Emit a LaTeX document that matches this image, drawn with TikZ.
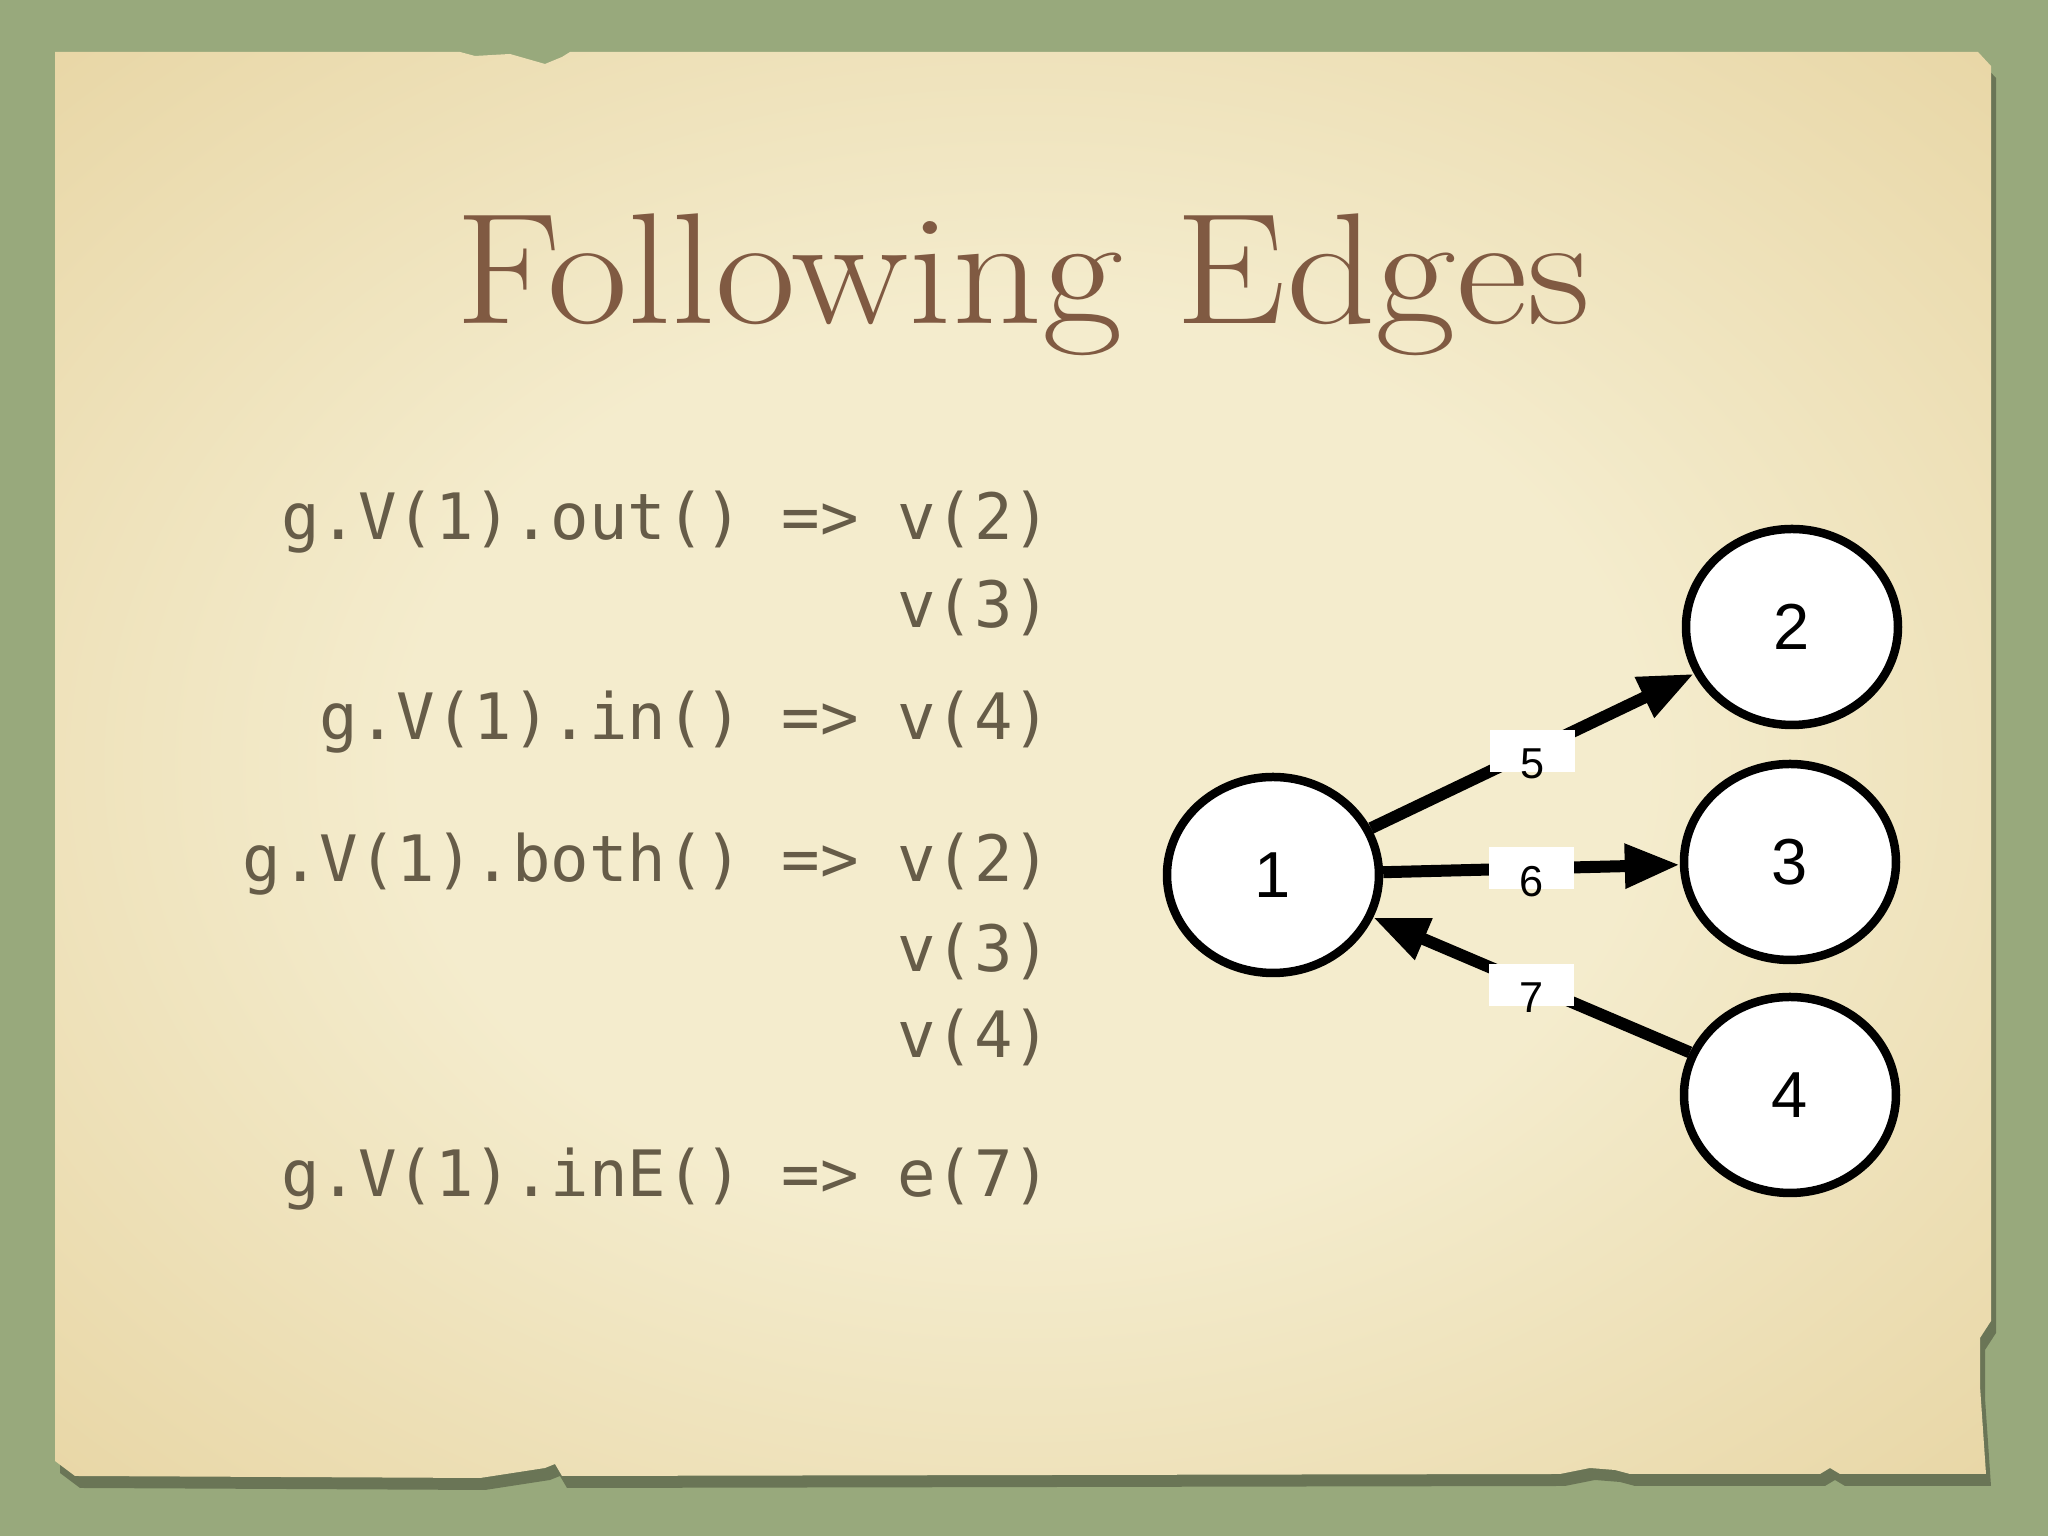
\documentclass[tikz,border=0pt]{standalone}
\usepackage{xcolor}
\usepackage{fontspec}
\usepackage{tikz}
\usetikzlibrary{shapes.geometric}
\usetikzlibrary {arrows.meta}

\newfontfamily\codefont{DejaVu Sans Mono}
\newfontfamily\graphfont{Liberation Sans}

\definecolor{felt}{RGB}{152,169,124}
\definecolor{paperlight}{RGB}{244,236,205}
\definecolor{papermid}{RGB}{232,214,165}
\definecolor{paperdark}{RGB}{208,176,114}
\definecolor{titlebrown}{RGB}{128,90,66}
\definecolor{codegray}{RGB}{102,92,72}

\pgfdeclareradialshading{paper}{\pgfpoint{0bp}{0bp}}{color(0bp)=(paperlight); color(16bp)=(paperlight); color(36bp)=(papermid); color(50bp)=(paperdark); color(75bp)=(paperdark)}

\newcommand{\lowdigit}[1]{\smash{\raisebox{-2.8mm}{#1}}}

\begin{document}
\begin{tikzpicture}[
        vertex/.style={ellipse, draw, fill=white, line width=0.085cm, minimum width=2.12cm, minimum height=1.96cm, inner sep=0pt, font=\graphfont\fontsize{18.5}{20}\selectfont},
        edgelabel/.style={fill=white, minimum width=0.85cm, minimum height=0.42cm, inner sep=0pt, font=\graphfont\fontsize{12.3}{14}\selectfont},
        code/.style={anchor=base east, inner sep=0pt, color=codegray, font=\codefont\fontsize{18.2}{22}\selectfont},
        link/.style={line width=0.12cm, -{Triangle[length=0.55cm, width=0.42cm]}},
        paper outline/.style={insert path={(0.55,14.84) -- (4.6,14.84) -- (4.75,14.80) -- (5.1,14.82)
            -- (5.45,14.72) -- (5.62,14.79) -- (5.7,14.84) -- (19.78,14.84) -- (19.91,14.70)
            -- (19.91,2.15) -- (19.80,1.98) -- (19.80,1.50) -- (19.86,0.62) -- (18.4,0.62)
            -- (18.3,0.68) -- (18.2,0.62) -- (16.3,0.62) -- (16.15,0.66) -- (15.9,0.68)
            -- (15.6,0.62) -- (5.62,0.60) -- (5.55,0.72) -- (5.45,0.68) -- (4.8,0.58)
            -- (0.75,0.60) -- (0.55,0.75) -- cycle}}
    ]
        \useasboundingbox (0,0) rectangle (20.48,15.36);
        \fill[felt] (0,0) rectangle (20.48,15.36);
        \fill[black, opacity=0.3, shift={(0.05,-0.12)}, paper outline];
        \shade[shading=paper, paper outline];

        \path
            % Title
            (10.23,12.12) node[anchor=base, xscale=1.11, transform shape, color=titlebrown, font=\fontsize{45}{50}\selectfont] (title) {Following Edges}

            % out
            (10.52,9.96) node[code] (out) {g.V(1).out() => v(2)}
            (10.52,9.08) node[code] (outb) {v(3)}

            % in
            (10.52,7.96) node[code] (in) {g.V(1).in() => v(4)}

            % both
            (10.52,6.54) node[code] (both) {g.V(1).both() => v(2)}
            (10.52,5.64) node[code] (bothb) {v(3)}
            (10.52,4.78) node[code] (bothc) {v(4)}

            % inE
            (10.52,3.39) node[code] (inE) {g.V(1).inE() => e(7)};

        \draw
            % Vertices
            (12.73,6.61) node[vertex] (v1) {1}
            (17.92,9.09) node[vertex] (v2) {2}
            (17.90,6.74) node[vertex] (v3) {3}
            (17.90,4.41) node[vertex] (v4) {4};

        \draw[link] (v1) -- node[edgelabel] (e5) {\lowdigit{5}} (v2);
        \draw[link] (v1) -- node[edgelabel] (e6) {\lowdigit{6}} (v3);
        \draw[link] (v4) -- node[edgelabel] (e7) {\lowdigit{7}} (v1);
    \end{tikzpicture}
\end{document}
